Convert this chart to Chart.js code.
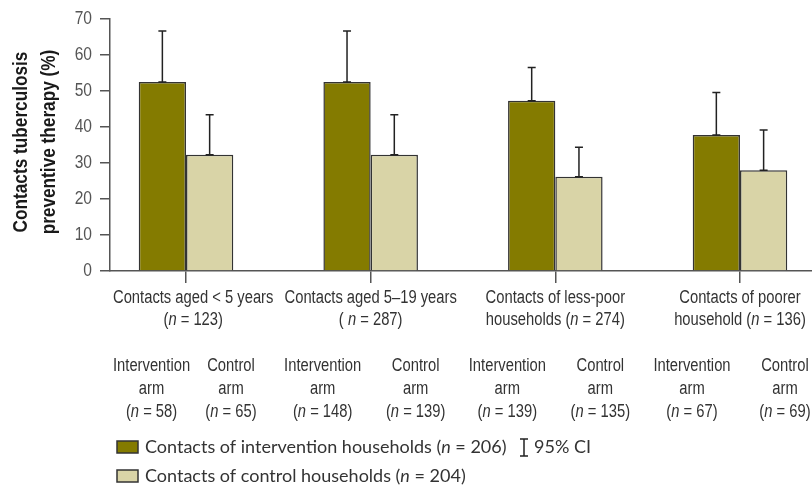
<!DOCTYPE html>
<html>
<head>
<meta charset="utf-8">
<script src="https://cdn.jsdelivr.net/npm/chart.js@4.4.1/dist/chart.umd.min.js"></script>
<style>
  html, body { margin: 0; padding: 0; background: #fff; }
  #wrap { width: 812px; height: 486px; }
</style>
</head>
<body>
<div id="wrap"><canvas id="ptChart" width="812" height="486"></canvas></div>
<script>
// chart values
const categories = [
    ['Contacts aged < 5 years', '(*n* = 123)'],
    ['Contacts aged 5\u201319 years', '( *n* = 287)'],
    ['Contacts of less-poor', 'households (*n* = 274)'],
    ['Contacts of poorer', 'household (*n* = 136)']
];
const interventionPct = [52.5, 52.5, 47.3, 37.8];
const interventionCiHigh = [66.7, 66.7, 56.5, 49.6];
const controlPct = [32.3, 32.3, 26.2, 28.0];
const controlCiHigh = [43.4, 43.4, 34.4, 39.2];
const interventionArm = [
    ['Intervention', 'arm', '(*n* = 58)'],
    ['Intervention', 'arm', '(*n* = 148)'],
    ['Intervention', 'arm', '(*n* = 139)'],
    ['Intervention', 'arm', '(*n* = 67)']
];
const controlArm = [
    ['Control', 'arm', '(*n* = 65)'],
    ['Control', 'arm', '(*n* = 139)'],
    ['Control', 'arm', '(*n* = 135)'],
    ['Control', 'arm', '(*n* = 69)']
];
const seriesNames = ['Contacts of intervention households (*n* = 206)', 'Contacts of control households (*n* = 204)'];
const ciLabel = '95% CI';
const yTitle = ['Contacts tuberculosis', 'preventive therapy (%)'];
const yMax = 70;
const yStep = 10;

const OLIVE = '#847b00';
const BEIGE = '#d9d4a7';
const EDGE = '#333333';
const AXIS = '#555555';
const TEXT = '#333333';
const SANS = "'Liberation Sans', Arial, sans-serif";
const REGULAR = "Lato, 'Liberation Sans', sans-serif";
const NARROW_X = 0.82; // squeeze to mimic a condensed face

function measureRich(ctx, text, font, sx) {
    let w = 0;
    text.split('*').forEach((p, k) => {
        ctx.font = (k % 2 ? 'italic ' : '') + font;
        w += ctx.measureText(p).width;
    });
    return w * (sx || 1);
}

// text with *italic* parts, optional horizontal squeeze
function drawRich(ctx, text, x, y, font, align, sx) {
    sx = sx || 1;
    const parts = text.split('*');
    const widths = parts.map((p, k) => {
        ctx.font = (k % 2 ? 'italic ' : '') + font;
        return ctx.measureText(p).width;
    });
    const total = widths.reduce((a, b) => a + b, 0);
    ctx.save();
    ctx.translate(x, y);
    ctx.scale(sx, 1);
    let cx = align === 'left' ? 0 : align === 'right' ? -total : -total / 2;
    ctx.textAlign = 'left';
    parts.forEach((p, k) => {
        ctx.font = (k % 2 ? 'italic ' : '') + font;
        ctx.fillText(p, cx, 0);
        cx += widths[k];
    });
    ctx.restore();
}

// a centred block of lines, kept clear of the y axis
function drawBlock(ctx, lines, cx, y0, step, font, minLeft) {
    const w = Math.max(...lines.map(l => measureRich(ctx, l, font, NARROW_X)));
    const x = Math.max(cx, minLeft + w / 2);
    lines.forEach((ln, k) => drawRich(ctx, ln, x, y0 + k * step, font, 'center', NARROW_X));
}

const errorBars = {
    id: 'errorBars',
    afterDatasetsDraw(chart) {
        const ctx = chart.ctx;
        const yScale = chart.scales.y;
        ctx.save();
        ctx.strokeStyle = '#222';
        ctx.lineWidth = 1.5;
        chart.data.datasets.forEach((ds, di) => {
            chart.getDatasetMeta(di).data.forEach((bar, i) => {
                const yHi = yScale.getPixelForValue(ds.ciHigh[i]);
                ctx.beginPath();
                ctx.moveTo(bar.x, bar.y);
                ctx.lineTo(bar.x, yHi);
                ctx.moveTo(bar.x - 4, yHi);
                ctx.lineTo(bar.x + 4, yHi);
                ctx.moveTo(bar.x - 4, bar.y);
                ctx.lineTo(bar.x + 4, bar.y);
                ctx.stroke();
            });
        });
        ctx.restore();
    }
};

const textLayer = {
    id: 'textLayer',
    afterDraw(chart) {
        const ctx = chart.ctx;
        const xScale = chart.scales.x;
        const yScale = chart.scales.y;
        const area = chart.chartArea;
        ctx.save();
        ctx.textBaseline = 'middle';

        // y tick labels
        ctx.fillStyle = AXIS;
        yScale.ticks.forEach((t, i) => {
            drawRich(ctx, String(t.value), area.left - 18, yScale.getPixelForTick(i), '19px ' + SANS, 'right', NARROW_X);
        });

        // y title, rotated
        ctx.fillStyle = '#1a1a1a';
        const midY = (area.top + area.bottom) / 2 - 3;
        yTitle.forEach((ln, k) => {
            ctx.save();
            ctx.translate(21 + k * 28, midY);
            ctx.rotate(-Math.PI / 2);
            drawRich(ctx, ln, 0, 0, 'bold 21px ' + SANS, 'center', NARROW_X);
            ctx.restore();
        });

        // category + arm labels
        ctx.fillStyle = TEXT;
        const labelFont = '18px ' + SANS;
        const minLeft = area.left + 3;
        categories.forEach((lines, i) => {
            const cx = xScale.getPixelForValue(i);
            drawBlock(ctx, lines, cx, 298, 22, labelFont, minLeft);
            drawBlock(ctx, interventionArm[i], cx - 48, 366, 23, labelFont, minLeft);
            drawBlock(ctx, controlArm[i], cx + 45, 366, 23, labelFont, minLeft);
        });

        // legend
        const legFont = '18px ' + REGULAR;
        [OLIVE, BEIGE].forEach((col, k) => {
            const ly = 447 + k * 29;
            ctx.fillStyle = col;
            ctx.fillRect(117, ly - 6, 21, 12);
            ctx.strokeStyle = EDGE;
            ctx.lineWidth = 1.5;
            ctx.strokeRect(117, ly - 6, 21, 12);
            ctx.fillStyle = TEXT;
            drawRich(ctx, seriesNames[k], 145, ly, legFont, 'left');
        });
        ctx.strokeStyle = '#222';
        ctx.lineWidth = 1.5;
        ctx.beginPath();
        ctx.moveTo(524, 439); ctx.lineTo(524, 456);
        ctx.moveTo(520, 439); ctx.lineTo(528, 439);
        ctx.moveTo(520, 456); ctx.lineTo(528, 456);
        ctx.stroke();
        drawRich(ctx, ciLabel, 534, 447, legFont, 'left');
        ctx.restore();
    }
};

const xs = categories.map((_, i) => i);
const X_MIN = -0.4116, X_MAX = 3.39;

new Chart(document.getElementById('ptChart').getContext('2d'), {
    type: 'bar',
    data: {
        datasets: [{
            label: seriesNames[0],
            data: xs.map(i => ({ x: i, y: interventionPct[i] })),
            ciHigh: interventionCiHigh,
            backgroundColor: OLIVE,
            borderColor: EDGE,
            borderWidth: 1.5
        }, {
            label: seriesNames[1],
            data: xs.map(i => ({ x: i, y: controlPct[i] })),
            ciHigh: controlCiHigh,
            backgroundColor: BEIGE,
            borderColor: EDGE,
            borderWidth: 1.5
        }]
    },
    options: {
        responsive: false,
        animation: false,
        layout: { padding: { top: 19, right: 0, left: 0, bottom: 0 } },
        datasets: { bar: { categoryPercentage: 0.512, barPercentage: 1.0 } },
        plugins: { legend: { display: false }, tooltip: { enabled: false } },
        scales: {
            x: {
                type: 'linear',
                bounds: 'data',
                offset: false,
                min: X_MIN,
                max: X_MAX,
                afterBuildTicks: s => { s.ticks = xs.map(v => ({ value: v })); s.min = X_MIN; s.max = X_MAX; },
                afterFit: s => { s.height = 215; s.paddingLeft = 0; s.paddingRight = 0; },
                ticks: { display: false },
                grid: { offset: false, drawOnChartArea: false, color: AXIS, lineWidth: 1.5, tickLength: 12 },
                border: { color: AXIS, width: 1.5 }
            },
            y: {
                min: 0,
                max: yMax,
                afterFit: s => { s.width = 110; },
                ticks: { display: false, stepSize: yStep },
                grid: { drawOnChartArea: false, color: AXIS, lineWidth: 1.5, tickLength: 10 },
                border: { color: AXIS, width: 1.5 }
            }
        }
    },
    plugins: [errorBars, textLayer]
});
</script>
</body>
</html>
